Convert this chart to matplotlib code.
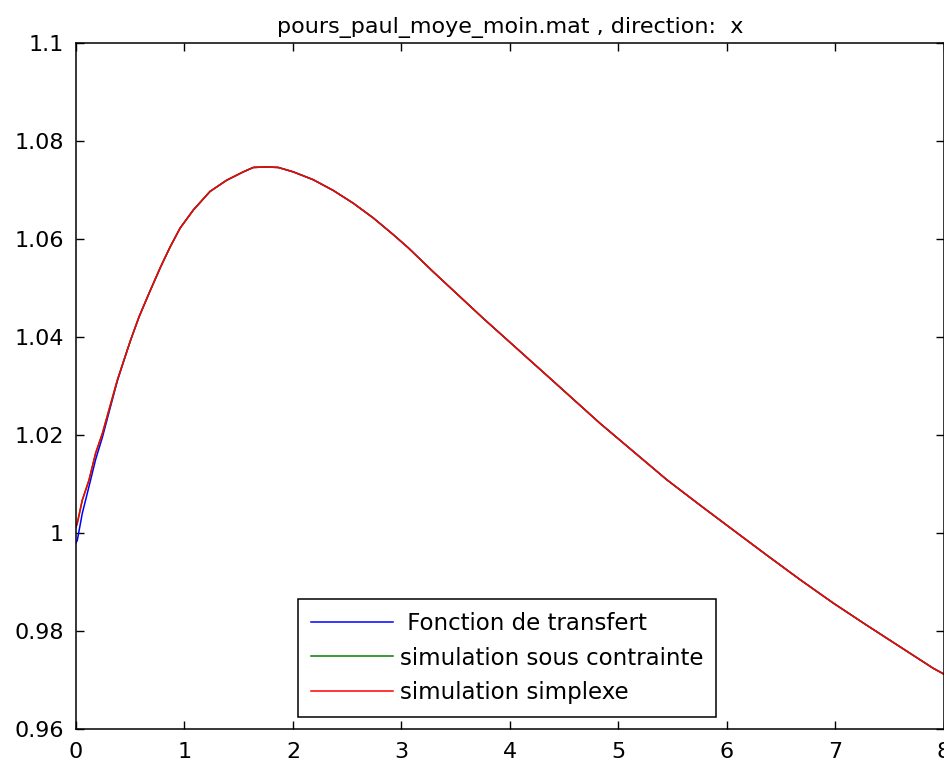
''' Transfer function vs simulations, direction x '''
import matplotlib
matplotlib.use('Agg')
import matplotlib.pyplot as plt

# values
temps = [0.0, 0.012, 0.058, 0.12, 0.181, 0.243, 0.304, 0.381, 0.442, 0.504,
         0.581, 0.673, 0.78, 0.866, 0.959, 1.081, 1.235, 1.389, 1.542, 1.634,
         1.75, 1.865, 2.003, 2.187, 2.372, 2.556, 2.74, 2.924, 3.063, 3.293,
         3.754, 4.338, 4.829, 5.444, 5.751, 6.058, 6.366, 6.673, 6.98, 7.287,
         7.594, 7.901, 8.0]
transfert = [0.9980, 0.9985, 1.0040, 1.0095, 1.0150, 1.0195, 1.0246, 1.0310,
             1.0352, 1.0394, 1.0441, 1.0489, 1.0543, 1.0583, 1.0622, 1.0659,
             1.0697, 1.0720, 1.0737, 1.0746, 1.0747, 1.0746, 1.0737, 1.0721,
             1.0699, 1.0673, 1.0643, 1.0609, 1.0582, 1.0533, 1.0438, 1.0322,
             1.0224, 1.0109, 1.0057, 1.0006, 0.9955, 0.9905, 0.9857, 0.9812,
             0.9768, 0.9724, 0.9712]
sous_contrainte = [1.0012, 1.0020, 1.0067, 1.0108, 1.0163, 1.0203, 1.0251,
                   1.0312, 1.0353, 1.0394, 1.0441, 1.0489, 1.0543, 1.0583,
                   1.0622, 1.0659, 1.0697, 1.0720, 1.0737, 1.0746, 1.0747,
                   1.0746, 1.0737, 1.0721, 1.0699, 1.0673, 1.0643, 1.0609,
                   1.0582, 1.0533, 1.0438, 1.0322, 1.0224, 1.0109, 1.0057,
                   1.0006, 0.9955, 0.9905, 0.9857, 0.9812, 0.9768, 0.9724,
                   0.9712]
simplexe = [1.0012, 1.0020, 1.0067, 1.0108, 1.0163, 1.0203, 1.0251, 1.0312,
            1.0353, 1.0394, 1.0441, 1.0489, 1.0543, 1.0583, 1.0622, 1.0659,
            1.0697, 1.0720, 1.0737, 1.0746, 1.0747, 1.0746, 1.0737, 1.0721,
            1.0699, 1.0673, 1.0643, 1.0609, 1.0582, 1.0533, 1.0438, 1.0322,
            1.0224, 1.0109, 1.0057, 1.0006, 0.9955, 0.9905, 0.9857, 0.9812,
            0.9768, 0.9724, 0.9712]

xticks = [0, 1, 2, 3, 4, 5, 6, 7, 8]
yticks = [0.96, 0.98, 1.0, 1.02, 1.04, 1.06, 1.08, 1.1]
ylabels = ['0.96', '0.98', '1', '1.02', '1.04', '1.06', '1.08', '1.1']
labels = [' Fonction de transfert', 'simulation sous contrainte', 'simulation simplexe']

plt.rcParams['font.family'] = 'DejaVu Sans'

fig = plt.figure(figsize=(9.45, 7.61), dpi=100)
ax = fig.add_axes([0.0804, 0.042, 0.9185, 0.9015])

ax.plot(temps, transfert, color='#0000ff', linewidth=1.1, label=labels[0])
ax.plot(temps, sous_contrainte, color='#008000', linewidth=1.1, label=labels[1])
ax.plot(temps, simplexe, color='#ff0000', linewidth=1.1, label=labels[2])

ax.set_xlim(0, 8)
ax.set_ylim(0.96, 1.1)
ax.set_xticks(xticks)
ax.set_xticklabels([str(t) for t in xticks])
ax.set_yticks(yticks)
ax.set_yticklabels(ylabels)
ax.tick_params(direction='in', length=6, width=1, top=True, right=True,
               labelsize=16, colors='black')
ax.tick_params(axis='y', pad=8.5)
ax.tick_params(axis='x', pad=9)
for s in ax.spines.values():
    s.set_linewidth(1.1)

ax.set_title('pours_paul_moye_moin.mat , direction:  x', fontsize=16, pad=7)

leg = ax.legend(loc='lower left', bbox_to_anchor=(0.256, 0.0175),
                borderaxespad=0, fontsize=16.5, handlelength=3.6,
                handletextpad=0.3, labelspacing=0.52, borderpad=0.55,
                fancybox=False, framealpha=1, edgecolor='black')
leg.get_frame().set_linewidth(1.1)

plt.savefig('out.png', dpi=100)
